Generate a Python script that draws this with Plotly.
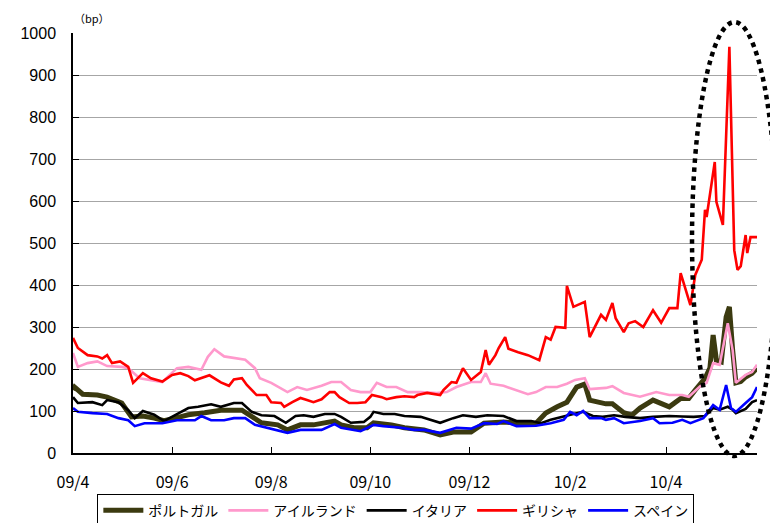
import pandas as pd
import plotly.graph_objects as go

START = pd.Timestamp("2009-04-01")

# day offsets since 2009-04-01 and spread values (bp) per country
portugal_day = [0, 1, 6, 15, 21, 26, 30, 36, 43, 50, 56, 63, 71, 81, 91, 104, 110, 116, 126, 132, 140, 148, 161, 165, 173, 181, 185, 196, 204, 210, 216, 226, 234, 245, 253, 265, 273, 285, 291, 298, 304, 310, 315, 318, 323, 328, 332, 339, 344, 349, 357, 362, 367, 374, 379, 383, 389, 392, 394, 396, 399, 402, 404, 406, 408, 411, 414, 418, 421]
portugal_val = [150, 157, 140, 138, 133, 126, 119, 86, 88, 83, 77, 83, 91, 96, 102, 102, 86, 72, 67, 55, 67, 67, 76, 67, 60, 60, 72, 67, 60, 57, 55, 43, 50, 50, 71, 74, 71, 71, 95, 110, 121, 157, 164, 126, 121, 117, 117, 96, 90, 107, 126, 117, 110, 130, 130, 150, 178, 202, 281, 221, 217, 324, 348, 245, 167, 170, 181, 190, 202]

ireland_day = [0, 3, 9, 15, 21, 30, 34, 41, 55, 64, 71, 79, 83, 87, 93, 99, 106, 112, 115, 122, 132, 138, 144, 153, 159, 165, 171, 177, 183, 187, 193, 199, 206, 214, 224, 230, 236, 245, 251, 254, 257, 265, 273, 280, 285, 291, 298, 304, 309, 315, 318, 328, 332, 339, 349, 359, 367, 375, 379, 386, 390, 394, 398, 403, 406, 408, 414, 418, 421]
ireland_val = [238, 205, 214, 218, 207, 205, 202, 178, 169, 202, 205, 198, 229, 247, 230, 226, 222, 202, 178, 167, 145, 157, 150, 160, 169, 169, 150, 145, 145, 167, 157, 157, 145, 145, 143, 145, 157, 169, 169, 190, 165, 160, 150, 140, 145, 157, 157, 165, 174, 178, 152, 155, 159, 143, 134, 145, 138, 138, 134, 159, 167, 214, 210, 309, 245, 167, 186, 193, 210]

italy_day = [0, 3, 12, 18, 21, 28, 34, 38, 43, 50, 56, 64, 71, 77, 85, 91, 99, 104, 110, 116, 124, 131, 137, 142, 148, 155, 161, 165, 171, 179, 183, 185, 191, 198, 204, 214, 226, 234, 240, 248, 255, 265, 273, 282, 288, 294, 302, 308, 314, 320, 326, 333, 340, 349, 357, 367, 375, 382, 389, 394, 398, 403, 406, 408, 414, 418, 421]
italy_val = [133, 119, 121, 114, 126, 121, 102, 83, 100, 91, 76, 93, 107, 110, 116, 110, 119, 119, 98, 90, 88, 72, 88, 90, 86, 93, 93, 86, 72, 74, 86, 98, 93, 93, 88, 86, 72, 83, 90, 86, 90, 88, 76, 76, 71, 79, 88, 93, 98, 88, 86, 90, 86, 83, 86, 88, 87, 86, 88, 107, 103, 110, 103, 95, 105, 121, 126]

greece_day = [0, 3, 9, 15, 18, 21, 24, 29, 34, 37, 43, 48, 55, 61, 66, 71, 75, 84, 91, 96, 99, 104, 107, 113, 119, 122, 128, 130, 135, 140, 144, 148, 153, 158, 161, 164, 170, 175, 180, 184, 190, 193, 199, 204, 210, 212, 218, 226, 228, 233, 236, 240, 245, 251, 254, 256, 260, 262, 266, 268, 274, 280, 287, 291, 294, 297, 303, 304, 308, 315, 318, 321, 325, 328, 332, 334, 339, 342, 346, 351, 357, 362, 367, 372, 374, 380, 383, 387, 389, 390, 395, 396, 400, 404, 407, 409, 411, 414, 415, 417, 421]
greece_val = [274, 250, 233, 230, 225, 233, 214, 218, 205, 167, 190, 178, 170, 186, 190, 183, 173, 185, 168, 160, 175, 178, 162, 138, 138, 121, 119, 110, 121, 131, 126, 121, 128, 145, 145, 133, 119, 119, 121, 138, 133, 128, 133, 135, 133, 138, 143, 138, 150, 169, 167, 202, 174, 193, 245, 210, 233, 250, 276, 248, 240, 233, 221, 276, 270, 300, 298, 398, 348, 360, 276, 300, 329, 317, 357, 321, 288, 309, 314, 300, 340, 310, 345, 345, 428, 352, 424, 460, 579, 562, 693, 598, 543, 967, 483, 436, 445, 519, 476, 514, 514]

spain_day = [0, 3, 12, 21, 28, 34, 38, 44, 55, 64, 75, 79, 85, 93, 99, 106, 112, 120, 132, 140, 153, 161, 165, 177, 185, 191, 202, 210, 216, 226, 236, 245, 253, 261, 265, 273, 285, 294, 302, 306, 310, 314, 318, 325, 328, 333, 339, 349, 357, 361, 369, 375, 380, 388, 394, 398, 402, 405, 408, 414, 418, 421]
spain_val = [107, 98, 95, 93, 83, 78, 64, 71, 71, 78, 78, 88, 78, 78, 83, 83, 67, 60, 48, 55, 55, 69, 60, 52, 67, 64, 60, 55, 55, 48, 60, 58, 71, 69, 76, 64, 65, 71, 79, 98, 90, 100, 83, 83, 79, 83, 71, 76, 83, 71, 72, 79, 71, 83, 114, 103, 162, 107, 98, 119, 133, 157]

tick_dates = ["2009-04-01", "2009-06-01", "2009-08-01", "2009-10-01", "2009-12-01", "2010-02-01", "2010-04-01"]
tick_labels = ["09/4", "09/6", "09/8", "09/10", "09/12", "10/2", "10/4"]
y_ticks = [0, 100, 200, 300, 400, 500, 600, 700, 800, 900, 1000]

names = ["ポルトガル", "アイルランド", "イタリア", "ギリシャ", "スペイン"]
colors = ["#3b3a10", "#ff99cc", "#000000", "#ff0000", "#0000ff"]
widths = [5, 2.6, 2.6, 2.6, 2.6]
days_list = [portugal_day, ireland_day, italy_day, greece_day, spain_day]
vals_list = [portugal_val, ireland_val, italy_val, greece_val, spain_val]


def to_dates(days):
    return START + pd.to_timedelta(days, unit="D")


fig = go.Figure()
for n, c, w, d, v in zip(names, colors, widths, days_list, vals_list):
    fig.add_trace(go.Scatter(x=to_dates(d), y=v, mode="lines", name=n,
                             line=dict(color=c, width=w)))

font_jp = "Noto Sans CJK JP"
# page body has an 8px margin, so the figure is 8px smaller on each axis
fig.update_layout(
    width=770, height=515,
    margin=dict(l=65, r=21, t=25, b=70, autoexpand=False),
    paper_bgcolor="white", plot_bgcolor="white",
    font=dict(family=font_jp, color="black"),
    showlegend=True,
    legend=dict(orientation="h", x=0.472, xanchor="center",
                y=-0.097, yanchor="top",
                bordercolor="black", borderwidth=1, font=dict(size=14, family=font_jp),
                tracegroupgap=0, itemwidth=40, bgcolor="white"),
)
fig.update_xaxes(
    type="date", range=[START, START + pd.Timedelta(days=421)],
    tickvals=tick_dates, ticktext=tick_labels,
    ticks="inside", ticklen=6, tickcolor="black", tickwidth=1,
    showline=True, linecolor="black", linewidth=1.5,
    showgrid=False, zeroline=False,
    tickfont=dict(size=16, family=font_jp), ticklabelstandoff=14,
)
fig.update_yaxes(
    range=[0, 1000], tickvals=y_ticks,
    ticks="inside", ticklen=6, tickcolor="black", tickwidth=1,
    showline=True, linecolor="black", linewidth=1.5,
    showgrid=True, gridcolor="#a6a6a6", gridwidth=1, zeroline=False,
    tickfont=dict(size=16, family="Liberation Sans"), ticklabelstandoff=12,
)
fig.add_annotation(text="（bp）", xref="paper", yref="paper", x=0.028, y=1.036,
                   xanchor="center", yanchor="middle",
                   showarrow=False, font=dict(size=11, family=font_jp))
# highlight ellipse
fig.add_shape(type="circle", xref="paper", yref="paper",
              x0=0.905, x1=1.029, y0=-0.007, y1=1.026,
              line=dict(color="black", width=4.5, dash="dot"))

fig.write_html("out.html")
